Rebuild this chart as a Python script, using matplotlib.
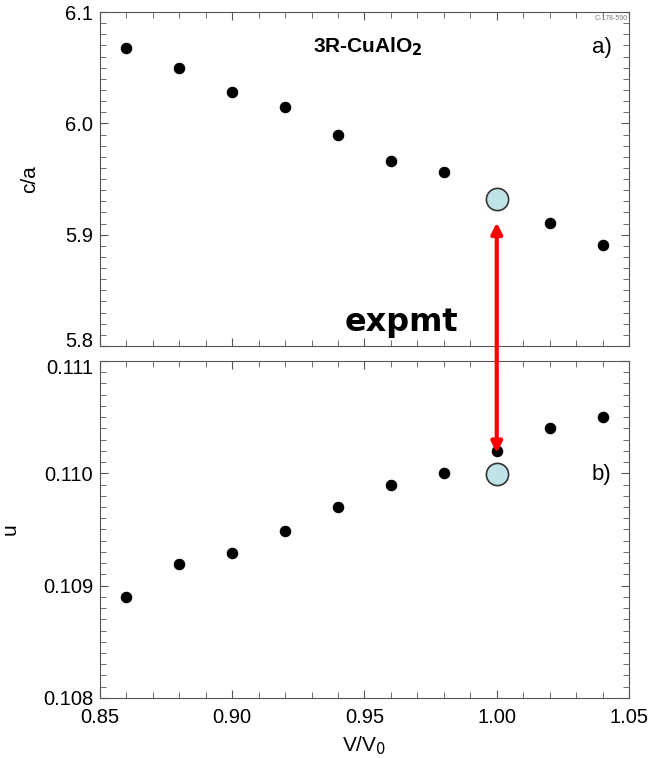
import matplotlib
matplotlib.use("Agg")
from matplotlib import pyplot as plt
from matplotlib.ticker import MultipleLocator, FormatStrFormatter
from matplotlib.transforms import ScaledTranslation

# computed points
vol = [0.86, 0.88, 0.90, 0.92, 0.94, 0.96, 0.98, 1.00, 1.02, 1.04]
c_over_a = [6.068, 6.0495, 6.0285, 6.015, 5.990, 5.966, 5.9565, None, 5.9105, 5.891]
u_param = [0.10890, 0.10919, 0.10929, 0.10949, 0.10970, 0.10990, 0.11000, 0.11020, 0.11040, 0.11050]

# experiment
vol_exp = [1.00]
c_over_a_exp = [5.9325]
u_exp = [0.10999]

plt.rcParams['font.family'] = ['Liberation Sans', 'DejaVu Sans']
fig = plt.figure(figsize=(6.51, 7.58), dpi=100)
ax1 = fig.add_axes([0.1536, 0.5435, 0.8126, 0.4406])
ax2 = fig.add_axes([0.1536, 0.0792, 0.8126, 0.4446])

edge = "#555555"
for ax in (ax1, ax2):
    ax.set_xlim(0.85, 1.05)
    ax.xaxis.set_major_locator(MultipleLocator(0.05))
    ax.xaxis.set_minor_locator(MultipleLocator(0.01))
    ax.tick_params(which="both", direction="in", top=True, right=True,
                   color=edge, labelsize=14.5)
    ax.tick_params(which="major", length=6)
    ax.tick_params(which="minor", length=4)
    ax.tick_params(axis="y", pad=5)
    ax.tick_params(axis="x", pad=7)
    for s in ax.spines.values():
        s.set_color(edge)

xs = [v for v, c in zip(vol, c_over_a) if c is not None]
cs = [c for c in c_over_a if c is not None]
ax1.plot(xs, cs, "o", color="black", ms=7.3, ls="none")
ax1.plot(vol_exp, c_over_a_exp, "o", ms=16, mfc="#bfe3e6", mec="#333333", mew=1.2, ls="none")
ax1.set_ylim(5.8, 6.1)
ax1.yaxis.set_major_locator(MultipleLocator(0.1))
ax1.yaxis.set_minor_locator(MultipleLocator(0.01))
ax1.yaxis.set_major_formatter(FormatStrFormatter("%.1f"))
ax1.tick_params(labelbottom=False)
ax1.set_ylabel("c/a", fontsize=15)
ax1.yaxis.set_label_coords(-0.115, 0.5)
ax1.text(0.9513, 6.0686, "3R-CuAlO$_\\mathbf{2}$", fontsize=15, fontweight="bold",
         ha="center", va="center")
ax1.text(1.0435, 6.0686, "a)", fontsize=16, ha="right", va="center")
ax1.text(1.0495, 6.097, "C-178-590", fontsize=5, ha="right", va="top", color="#777777")
ax1.text(0.9638, 5.8215, "expmt", fontsize=23, fontweight="bold", family="DejaVu Sans",
         ha="center", va="center")

ax2.plot(vol, u_param, "o", color="black", ms=7.3, ls="none")
ax2.plot(vol_exp, u_exp, "o", ms=16, mfc="#bfe3e6", mec="#333333", mew=1.2, ls="none")
ax2.set_ylim(0.108, 0.111)
ax2.yaxis.set_major_locator(MultipleLocator(0.001))
ax2.yaxis.set_minor_locator(MultipleLocator(0.0001))
ax2.yaxis.set_major_formatter(FormatStrFormatter("%.3f"))
ax2.set_ylabel("u", fontsize=15)
ax2.yaxis.set_label_coords(-0.151, 0.5)
ax2.set_xlabel("V/V$_0$", fontsize=15)
ax2.xaxis.set_label_coords(0.5, -0.108)
ax2.text(1.0435, 0.10999, "b)", fontsize=16, ha="right", va="center")

# red double arrow between panels
ax2.annotate("", xy=(1.00, 0.11018), xycoords=ax2.transData,
             xytext=(1.00, 5.911), textcoords=ax1.transData,
             arrowprops=dict(arrowstyle="<|-|>", color="red", lw=3,
                             mutation_scale=16, shrinkA=0, shrinkB=0),
             annotation_clip=False)

# nudge the two crowded tick labels apart where the panels meet
fig.canvas.draw()
lab_low = [t for t in ax1.get_yticklabels() if t.get_text() == "5.8"]
lab_high = [t for t in ax2.get_yticklabels() if t.get_text() == "0.111"]
for t in lab_low:
    t.set_transform(t.get_transform() + ScaledTranslation(0, 5 / 72, fig.dpi_scale_trans))
for t in lab_high:
    t.set_transform(t.get_transform() + ScaledTranslation(0, -4 / 72, fig.dpi_scale_trans))

fig.savefig("out.png", dpi=100)
